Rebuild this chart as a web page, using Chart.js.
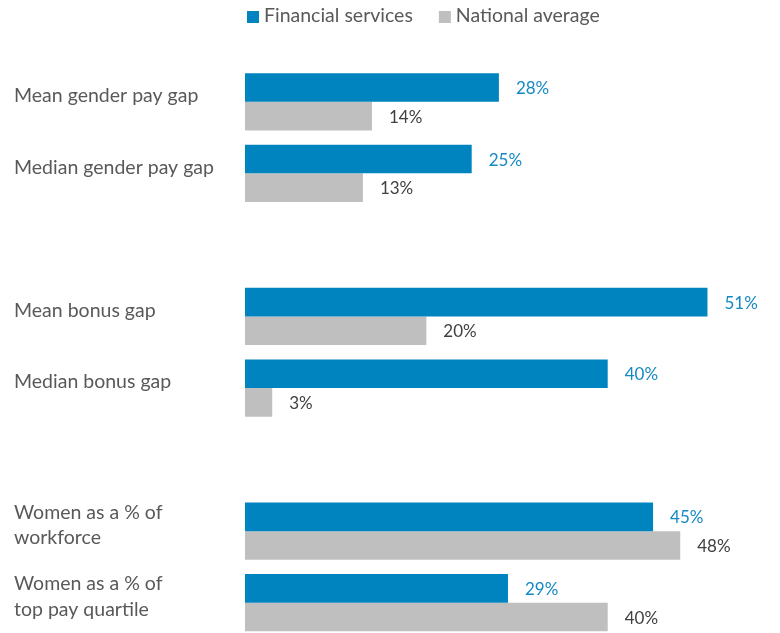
<!DOCTYPE html>
<html>
<head>
<meta charset="utf-8">
<title>Gender pay gap: financial services vs national average</title>
<script src="https://cdn.jsdelivr.net/npm/chart.js@4/dist/chart.umd.min.js"></script>
<style>
  html, body { margin: 0; padding: 0; background: #fff; overflow: hidden; }
  #wrap { width: 780px; height: 633px; overflow: hidden; }
  #payGap { display: block; }
</style>
</head>
<body>
<div id="wrap">
  <canvas id="payGap" width="780" height="640"></canvas>
</div>
<script>
// empty strings leave a gap row between the three groups
const categories = [
  "Mean gender pay gap",
  "Median gender pay gap",
  "",
  "Mean bonus gap",
  "Median bonus gap",
  "",
  ["Women as a % of", "workforce"],
  ["Women as a % of", "top pay quartile"]
];
const financialServices = [28, 25, null, 51, 40, null, 45, 29];
const nationalAverage = [14, 13, null, 20, 3, null, 48, 40];
const seriesNames = ["Financial services", "National average"];

const BLUE = "#0084BF";
const GREY = "#BFBFBF";
const TEXT = "#595959";
const FONT = "Lato, 'Open Sans', sans-serif";

// value labels just past the end of each bar
const valueLabels = {
  id: "valueLabels",
  afterDatasetsDraw(chart) {
    const ctx = chart.ctx;
    ctx.save();
    ctx.font = "17px " + FONT;
    ctx.textAlign = "left";
    ctx.textBaseline = "middle";
    chart.data.datasets.forEach((ds, i) => {
      ctx.fillStyle = i === 0 ? "#1589C3" : "#404040";
      chart.getDatasetMeta(i).data.forEach((bar, j) => {
        const v = ds.data[j];
        if (v === null || v === undefined) return;
        ctx.fillText(v + "%", bar.x + 17, bar.y + 1);
      });
    });
    ctx.restore();
  }
};

// simple legend row above the plot, starting at the bar baseline
const topLegend = {
  id: "topLegend",
  afterDraw(chart) {
    const ctx = chart.ctx;
    let x = chart.chartArea.left + 2;
    const y = 16;
    ctx.save();
    ctx.font = "19.5px " + FONT;
    ctx.textBaseline = "middle";
    ctx.textAlign = "left";
    chart.data.datasets.forEach((ds) => {
      ctx.fillStyle = ds.backgroundColor;
      ctx.fillRect(x, y - 5, 12, 12);
      ctx.fillStyle = TEXT;
      ctx.fillText(ds.label, x + 17, y);
      x += 17 + ctx.measureText(ds.label).width + 26;
    });
    ctx.restore();
  }
};

new Chart(document.getElementById("payGap"), {
  type: "bar",
  data: {
    labels: categories,
    datasets: [
      { label: seriesNames[0], data: financialServices, backgroundColor: BLUE },
      { label: seriesNames[1], data: nationalAverage, backgroundColor: GREY }
    ]
  },
  options: {
    indexAxis: "y",
    responsive: false,
    animation: false,
    layout: { padding: { top: 66, left: 14, right: 0, bottom: 1.5 } },
    datasets: {
      bar: { categoryPercentage: 0.8, barPercentage: 1.0 }
    },
    scales: {
      x: {
        display: false,
        min: 0,
        max: 59
      },
      y: {
        grid: { display: false },
        border: { display: false },
        afterFit(scale) {
          // fixed label column; labels never push the plot edges in
          scale.width = 231;
          scale.paddingTop = 0;
          scale.paddingBottom = 0;
        },
        ticks: {
          crossAlign: "far",
          labelOffset: -6,
          color: TEXT,
          font: { family: FONT, size: 19.5, lineHeight: 1.3 },
          autoSkip: false
        }
      }
    },
    plugins: {
      legend: { display: false },
      tooltip: { enabled: false }
    }
  },
  plugins: [valueLabels, topLegend]
});
</script>
</body>
</html>
